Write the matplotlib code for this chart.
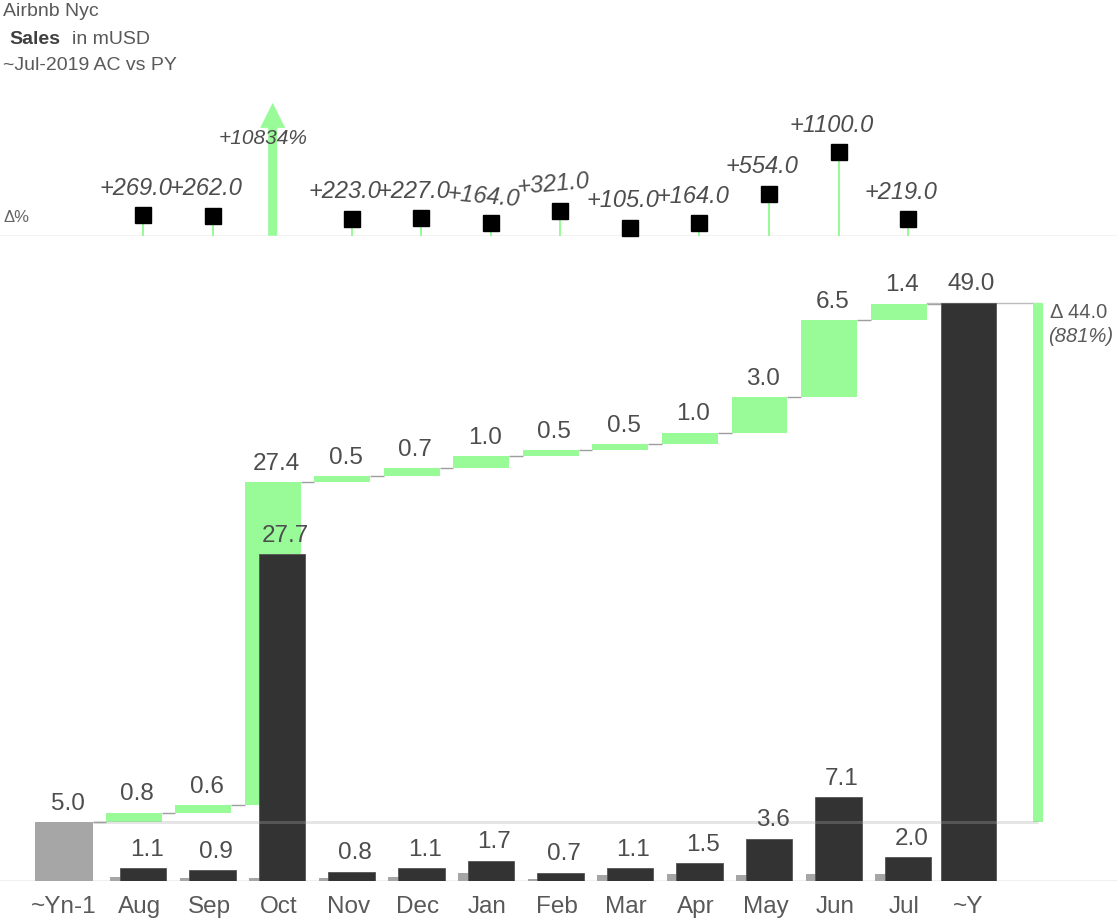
import matplotlib
matplotlib.use("Agg")
import matplotlib.pyplot as plt
import numpy as np

plt.rcParams["font.family"] = ["Liberation Sans", "DejaVu Sans"]

# ---- data -------------------------------------------------------------
MONTHS = ["Aug", "Sep", "Oct", "Nov", "Dec", "Jan", "Feb", "Mar", "Apr", "May", "Jun", "Jul"]
AC = [1.1, 0.9, 27.7, 0.8, 1.1, 1.7, 0.7, 1.1, 1.5, 3.6, 7.1, 2.0]
PY = [0.30, 0.25, 0.25, 0.25, 0.34, 0.64, 0.17, 0.54, 0.57, 0.55, 0.59, 0.63]
DELTA = [0.8, 0.6, 27.4, 0.5, 0.7, 1.0, 0.5, 0.5, 1.0, 3.0, 6.5, 1.4]
DELTA_PCT = [269.0, 262.0, 10834.0, 223.0, 227.0, 164.0, 321.0, 105.0, 164.0, 554.0, 1100.0, 219.0]
PY_TOTAL = 5.0
AC_TOTAL = 49.0
TOTAL_DELTA_PCT = 881
START_LABEL, END_LABEL = "~Yn-1", "~Y"

# ---- style ------------------------------------------------------------
GREEN = "#98FB98"
DARK = "#333333"
GREY_PY = "#A6A6A6"
CONNECT = "#9E9E9E"
VALUE_INK = "#4D4D4D"
LABEL_INK = "#595959"
PIN_LABEL_TILT = {"Jan": -5, "Feb": 5}

W_PX, H_PX, DPI = 1117, 921, 100
SLOT = 69.55          # px per category slot
X0 = 64.0             # px centre of the first slot
AC_SHIFT = 0.137      # AC bars sit right of the PY / delta column
PX_PER_UNIT = 11.8    # main panel scale
PX_PER_PCT = 0.0759   # delta % panel scale
PIN_CAP = 1750        # values above this become an arrow


def pt(px):
    return px * 72.0 / DPI


def fx(px):
    return px / W_PX


def fy(px):
    return 1 - px / H_PX


fig = plt.figure(figsize=(W_PX / DPI, H_PX / DPI), dpi=DPI)
xlim = (-X0 / SLOT, (W_PX - X0) / SLOT)

# ---- main waterfall ---------------------------------------------------
main_bottom, main_top = 881.0, 250.0
ax = fig.add_axes([0, fy(main_bottom), 1, (main_bottom - main_top) / H_PX])
ax.set_xlim(*xlim)
ax.set_ylim(0, (main_bottom - main_top) / PX_PER_UNIT)
ax.axis("off")

pos = np.arange(1, len(MONTHS) + 1)
end_pos = len(MONTHS) + 1
delta_pos = end_pos + 1
steps_top = PY_TOTAL + np.cumsum(DELTA)
steps_bottom = steps_top - np.array(DELTA)

w_start, w_step, w_small, w_end, w_delta = 0.83, 0.805, 0.67, 0.795, 0.144

ax.axhline(0, color="#EFEFEF", lw=1.5, zorder=0)
ax.bar(0, PY_TOTAL, width=w_start, color=GREY_PY, zorder=2)
ax.bar(pos, DELTA, bottom=steps_bottom, width=w_step, color=GREEN, zorder=2)
ax.bar(pos, PY, width=w_small, color=GREY_PY, zorder=3)
ax.bar(pos + AC_SHIFT, AC, width=w_small, color=DARK, edgecolor="#555555", lw=0.6, zorder=4)
ax.bar(end_pos, AC_TOTAL, width=w_end, color=DARK, edgecolor="#555555", lw=0.6, zorder=4)
ax.bar(delta_pos, AC_TOTAL - PY_TOTAL, bottom=PY_TOTAL, width=w_delta, color=GREEN, zorder=2)

# step connectors
levels = [PY_TOTAL] + list(steps_top)
rights = [0 + w_start / 2] + list(pos + w_step / 2)
lefts = list(pos - w_step / 2) + [end_pos - w_end / 2]
for lvl, x_a, x_b in zip(levels, rights, lefts):
    ax.plot([x_a, x_b], [lvl, lvl], color=CONNECT, lw=1, zorder=1, solid_capstyle="butt")
ax.plot([pos[-1] + w_step / 2, delta_pos], [AC_TOTAL, AC_TOTAL], color="#BBBBBB", lw=1, zorder=1)
# reference line at previous-year level, laid over the bars
ax.plot([w_start / 2, delta_pos], [PY_TOTAL, PY_TOTAL], color="#A9A9A9", alpha=0.3,
        lw=pt(3), zorder=6, solid_capstyle="butt")

label_kw = dict(textcoords="offset points", ha="center", va="baseline",
                fontsize=17.5, color=VALUE_INK, zorder=7)
off = (pt(3.5), pt(12.5))
ax.annotate(f"{PY_TOTAL:.1f}", (0, PY_TOTAL), xytext=off, **label_kw)
for x, top, d in zip(pos, steps_top, DELTA):
    ax.annotate(f"{d:.1f}", (x, top), xytext=off, **label_kw)
for x, v in zip(pos + AC_SHIFT, AC):
    ax.annotate(f"{v:.1f}", (x, v), xytext=off, **label_kw)
ax.annotate(f"{AC_TOTAL:.1f}", (end_pos, AC_TOTAL), xytext=off, **label_kw)

ax.annotate(f"Δ {AC_TOTAL - PY_TOTAL:.1f}", (delta_pos, AC_TOTAL), xytext=(pt(12), pt(-10)),
            textcoords="offset points", ha="left", va="center", fontsize=14.5, color="#5A5A5A")
ax.annotate(f"({TOTAL_DELTA_PCT}%)", (delta_pos, AC_TOTAL), xytext=(pt(10), pt(-34)),
            textcoords="offset points", ha="left", va="center", fontsize=14.5,
            style="italic", color="#5A5A5A")

# category labels
cat_x = [0] + list(pos + 0.085) + [end_pos]
cat_lbl = [START_LABEL] + MONTHS + [END_LABEL]
for x, s in zip(cat_x, cat_lbl):
    ax.annotate(s, (x, 0), xytext=(0, -pt(32)), textcoords="offset points",
                ha="center", va="baseline", fontsize=17.5, color=LABEL_INK)

# ---- delta % pins ------------------------------------------------------
pin_bottom, pin_top = 235.7, 95.0
axp = fig.add_axes([0, fy(pin_bottom), 1, (pin_bottom - pin_top) / H_PX])
axp.set_xlim(*xlim)
axp.set_ylim(0, (pin_bottom - pin_top) / PX_PER_PCT)
axp.axis("off")
axp.axhline(0, color="#EEEEEE", lw=pt(2.5), zorder=0)

for m, x, p in zip(MONTHS, pos, DELTA_PCT):
    if p > PIN_CAP:
        # off-scale change: arrow up to the cap, label laid across it
        axp.annotate("", xy=(x, PIN_CAP), xytext=(x, 0),
                     arrowprops=dict(arrowstyle="simple,head_length=18,head_width=18,tail_width=6.5",
                                     mutation_scale=1, color=GREEN, lw=0, shrinkA=0, shrinkB=0),
                     zorder=2)
        axp.text(x - 10 / SLOT, (pin_bottom - 138) / PX_PER_PCT, f"+{p:.0f}%",
                 ha="center", va="center", fontsize=15, style="italic", color=VALUE_INK,
                 zorder=5, clip_on=False)
        continue
    xa = x + AC_SHIFT
    axp.plot([xa, xa], [0, p], color=GREEN, lw=pt(2), zorder=2, solid_capstyle="butt")
    axp.plot(xa, p, marker="s", ms=pt(15.5), color="black", zorder=3, clip_on=False)
    axp.annotate(f"+{p:.1f}", (xa, p), xytext=(pt(-7), pt(27)), textcoords="offset points",
                 ha="center", va="center", fontsize=17, style="italic", color=VALUE_INK,
                 rotation=PIN_LABEL_TILT.get(m, 0), zorder=4, annotation_clip=False)

fig.text(fx(3), fy(217), "Δ%", ha="left", va="center", fontsize=12, color="#666666")

# ---- header ------------------------------------------------------------
fig.text(fx(3), fy(12), "Airbnb Nyc", ha="left", va="center", fontsize=14, color=LABEL_INK)
fig.text(fx(9), fy(39), "Sales", ha="left", va="center", fontsize=14, fontweight="bold", color="#404040")
fig.text(fx(72), fy(39), "in mUSD", ha="left", va="center", fontsize=14, color=LABEL_INK)
fig.text(fx(3), fy(66), "~Jul-2019 AC vs PY", ha="left", va="center", fontsize=14, color=LABEL_INK)

fig.savefig("out.png", dpi=DPI, facecolor="white")
